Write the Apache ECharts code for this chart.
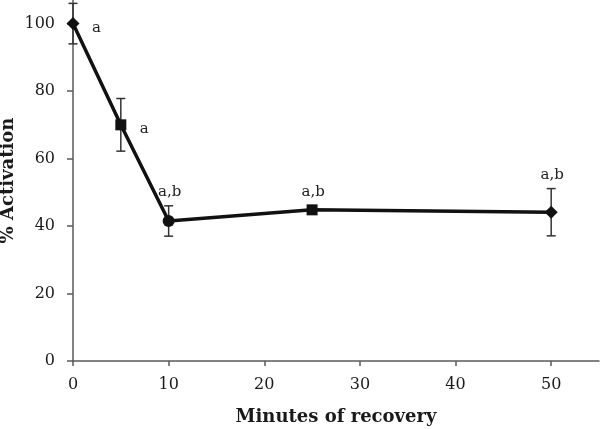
<!DOCTYPE html>
<html>
<head>
<meta charset="utf-8">
<script src="https://cdn.jsdelivr.net/npm/echarts@6/dist/echarts.min.js"></script>
<style>html,body{margin:0;padding:0;background:#fff}#c{width:600px;height:429px}</style>
</head>
<body>
<div id="c"></div>
<script>
const minutes = [0, 5, 10, 25, 50];
const activation = [100, 70, 41.5, 44.8, 44.1];
const errors = [6, 7.8, 4.5, 1.2, 7];
const markers = ['diamond', 'rect', 'circle', 'rect', 'diamond'];
const sigLabels = ['a', 'a', 'a,b', 'a,b', 'a,b'];
const xTicks = [0, 10, 20, 30, 40, 50];
const yTicks = [0, 20, 40, 60, 80, 100];

const font = '"DejaVu Serif", "Liberation Serif", serif';
const axisCol = '#5a5a5a';

const lineData = minutes.map((m, i) => ({
  value: [m, activation[i]],
  symbol: markers[i],
  symbolSize: markers[i] === 'diamond' ? 13 : (markers[i] === 'rect' ? 11 : 12)
}));
const errData = minutes.map((m, i) => [m, activation[i], errors[i], i]);

const chart = echarts.init(document.getElementById('c'), null, {renderer: 'canvas'});
chart.setOption({
  animation: false,
  grid: {left: 73, right: 1, top: 0, bottom: 68, containLabel: false, outerBoundsMode: 'none'},
  xAxis: {
    type: 'value', min: 0, max: 55, interval: 10,
    name: 'Minutes of recovery', nameLocation: 'middle', nameGap: 47, nameMoveOverlap: false,
    nameTextStyle: {fontFamily: font, fontWeight: 'bold', fontSize: 18, color: '#1a1a1a'},
    axisLine: {show: true, lineStyle: {color: axisCol, width: 1.5}},
    axisTick: {show: true, length: 5, lineStyle: {color: axisCol, width: 1.5}, customValues: xTicks},
    axisLabel: {fontFamily: font, fontSize: 16, color: '#1a1a1a', margin: 16, customValues: xTicks},
    splitLine: {show: false}
  },
  yAxis: {
    type: 'value', min: 0, max: 107, interval: 20,
    name: '% Activation', nameLocation: 'middle', nameGap: 56, nameRotate: 90, nameMoveOverlap: false,
    nameTextStyle: {fontFamily: font, fontWeight: 'bold', fontSize: 18, color: '#1a1a1a'},
    axisLine: {show: true, lineStyle: {color: axisCol, width: 1.5}},
    axisTick: {show: true, length: 6, lineStyle: {color: axisCol, width: 1.5}, customValues: yTicks},
    axisLabel: {fontFamily: font, fontSize: 16, color: '#1a1a1a', margin: 18, customValues: yTicks},
    splitLine: {show: false}
  },
  series: [
    {
      type: 'custom',
      z: 1,
      data: errData,
      renderItem: function (params, api) {
        const x = api.value(0), y = api.value(1), e = api.value(2);
        const top = api.coord([x, y + e]);
        const bot = api.coord([x, y - e]);
        const cap = 4.5;
        const st = {stroke: '#333', lineWidth: 1.5};
        return {
          type: 'group',
          children: [
            {type: 'line', shape: {x1: top[0], y1: top[1], x2: bot[0], y2: bot[1]}, style: st},
            {type: 'line', shape: {x1: top[0] - cap, y1: top[1], x2: top[0] + cap, y2: top[1]}, style: st},
            {type: 'line', shape: {x1: bot[0] - cap, y1: bot[1], x2: bot[0] + cap, y2: bot[1]}, style: st}
          ]
        };
      }
    },
    {
      type: 'line',
      z: 3,
      data: lineData,
      lineStyle: {color: '#111', width: 3.5},
      itemStyle: {color: '#111'},
      showAllSymbol: true
    },
    {
      type: 'custom',
      z: 4,
      data: errData,
      renderItem: function (params, api) {
        const x = api.value(0), y = api.value(1), e = api.value(2), idx = api.value(3);
        const txt = sigLabels[idx];
        let pos, align, vAlign;
        if (txt === 'a') {
          const p = api.coord([x, y]);
          pos = [p[0] + 19, p[1] + 4];
          align = 'left'; vAlign = 'middle';
        } else {
          const t = api.coord([x, y + e]);
          pos = [t[0] + 1, t[1] - 6];
          align = 'center'; vAlign = 'bottom';
        }
        return {
          type: 'text',
          x: pos[0], y: pos[1],
          style: {text: txt, fontFamily: font, fontSize: 15, fill: '#222', align: align, verticalAlign: vAlign}
        };
      }
    }
  ]
});
</script>
</body>
</html>
